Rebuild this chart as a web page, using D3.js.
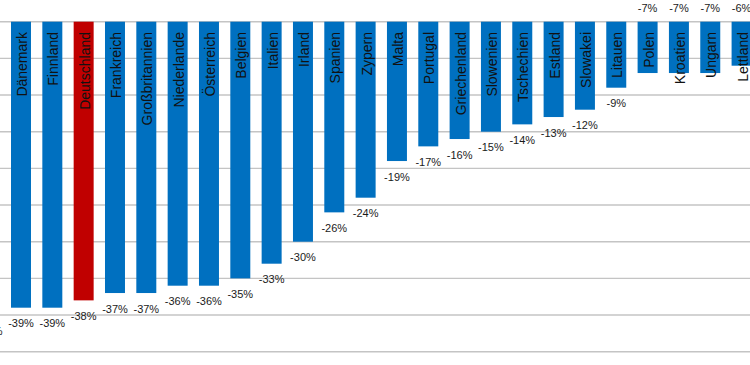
<!DOCTYPE html>
<html>
<head>
<meta charset="utf-8">
<script src="https://cdn.jsdelivr.net/npm/d3@7"></script>
<style>
  body { margin: 0; background: #fff; }
  svg { display: block; font-family: "Liberation Sans", Arial, sans-serif; }
</style>
</head>
<body>
<div id="chart"></div>
<script>
// Data (first bar is cut off at the left edge of the picture)
var countries = ['', 'Dänemark', 'Finnland', 'Deutschland', 'Frankreich', 'Großbritannien',
  'Niederlande', 'Österreich', 'Belgien', 'Italien', 'Irland', 'Spanien', 'Zypern', 'Malta',
  'Portugal', 'Griechenland', 'Slowenien', 'Tschechien', 'Estland', 'Slowakei', 'Litauen',
  'Polen', 'Kroatien', 'Ungarn', 'Lettland']
var values = [-40, -39, -39, -38, -37, -37, -36, -36, -35, -33, -30, -26, -24, -19,
  -17, -16, -15, -14, -13, -12, -9, -7, -7, -7, -6]
var highlight = ['Deutschland']
var gridTicks = [0, -5, -10, -15, -20, -25, -30, -35, -40, -45]

var chart = {
  width: 750,
  height: 365
}

chart.svg = d3.select('#chart')
  .append('svg')
  .attr('width', chart.width)
  .attr('height', chart.height)

var data = countries.map(function (c, i) { return { name: c, value: values[i] } })

var step = 31.33
var x = d3.scaleBand()
  .domain(countries)
  .range([-26, -26 + countries.length * step])
  .paddingInner(0.362)
  .paddingOuter(0.181)

var y = d3.scaleLinear()
  .domain([0, -45])
  .range([21.7, 351.7])

// grid lines
chart.svg.append('g')
  .selectAll('line')
  .data(gridTicks)
  .enter()
  .append('line')
  .attr('x1', 0)
  .attr('x2', chart.width)
  .attr('y1', function (d) { return y(d) })
  .attr('y2', function (d) { return y(d) })
  .attr('stroke', '#c4c4c4')
  .attr('stroke-width', 1.4)

// bars
chart.svg.append('g')
  .selectAll('rect')
  .data(data)
  .enter()
  .append('rect')
  .attr('x', function (d) { return x(d.name) })
  .attr('y', y(0))
  .attr('width', x.bandwidth())
  .attr('height', function (d) { return y(d.value) - y(0) })
  .attr('fill', function (d) { return highlight.indexOf(d.name) > -1 ? '#C00000' : '#0070C0' })

// category labels inside the bars
chart.svg.append('g')
  .selectAll('text')
  .data(data)
  .enter()
  .append('text')
  .attr('transform', function (d) {
    return 'translate(' + (x(d.name) + x.bandwidth() / 2 + 6) + ',' + 32 + ') rotate(-90)'
  })
  .attr('text-anchor', 'end')
  .attr('font-size', 14)
  .attr('fill', '#111')
  .text(function (d) { return d.name })

// value labels
chart.svg.append('g')
  .selectAll('text')
  .data(data)
  .enter()
  .append('text')
  .attr('x', function (d) { return x(d.name) + x.bandwidth() / 2 })
  .attr('y', function (d) { return d.value >= -7 ? 12 : y(d.value) + 19.5 })
  .attr('text-anchor', 'middle')
  .attr('font-size', 11)
  .attr('fill', '#1a1a1a')
  .text(function (d) { return d.value + '%' })
</script>
</body>
</html>
